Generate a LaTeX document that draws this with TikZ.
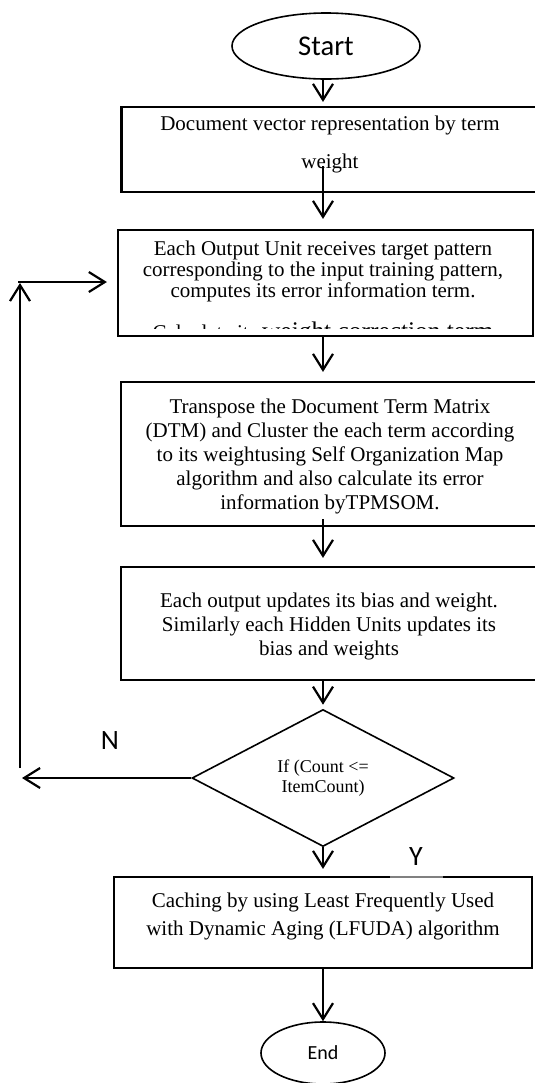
\documentclass[tikz,border=0pt]{standalone}
\usepackage{fontspec}
\setmainfont{Liberation Serif}
\newfontfamily\calibrifont{Carlito}
\usetikzlibrary{positioning, arrows.meta, shapes.geometric}

\begin{document}
\begin{tikzpicture}[x=0.5pt, y=-0.5pt]

	% Define styles
	\tikzset{
		terminal/.style={ellipse, draw, line width=0.8pt, inner sep=0pt},
		process/.style={rectangle, draw, line width=1.1pt, minimum width=209pt, inner sep=0pt},
		boxtext/.style={align=center, inner sep=0pt, anchor=base},
		decision/.style={diamond, draw, line width=0.8pt, inner sep=0pt,
			minimum width=131pt, minimum height=68.5pt, align=center,
			font=\fontsize{9}{10}\selectfont},
		answer/.style={font=\calibrifont\fontsize{14}{14}\selectfont, inner sep=0pt},
		arrow/.style={line width=1.1pt, -{Straight Barb[length=8pt, width=10pt]}}
	}

	\useasboundingbox (0,0) rectangle (535,1083);

	% Start and first box
	\node (start) [terminal, minimum width=94pt, minimum height=33pt,
		font=\calibrifont\fontsize{14.3}{16}\selectfont] at (326,46) {Start};
	\node (box1) [process, minimum height=42.5pt] at (330.5,149.5) {};
	\node (box1text) [boxtext, font=\fontsize{10.5}{19}\selectfont] at (330,168)
		{Document vector representation by term\\weight};

	% Output unit box (last line cut off)
	\node (box2) [process, minimum width=207.5pt, minimum height=53pt] at (325.5,283) {};
	\node (box2text) [boxtext, font=\fontsize{10.5}{10.5}\selectfont] at (323,297)
		{Each Output Unit receives target pattern\\corresponding to the input training pattern,\\computes its error information term.};
	\begin{scope}
		\clip (118,230) rectangle (533,328);
		\node (box2cut) [boxtext, font=\fontsize{10.5}{12}\selectfont] at (323,339)
			{Calculate its {\fontsize{12.7}{14}\selectfont weight correction term}};
	\end{scope}

	% SOM box
	\node (box3) [process, minimum height=72pt] at (330,454) {};
	\node (box3text) [boxtext, font=\fontsize{10.5}{12}\selectfont] at (330,509)
		{Transpose the Document Term Matrix\\(DTM) and Cluster the each term according\\to its weightusing Self Organization Map\\algorithm and also calculate its error\\information byTPMSOM.};

	% Update box
	\node (box4) [process, minimum height=56.5pt] at (330,623.5) {};
	\node (box4text) [boxtext, font=\fontsize{10.5}{12}\selectfont] at (329,655)
		{Each output updates its bias and weight.\\Similarly each Hidden Units updates its\\bias and weights};

	% Decision
	\node (cond) [decision] at (323,778) {If (Count <=\\ItemCount)};

	% Caching box and end
	\node (box5) [process, minimum height=45.5pt] at (323,922.5) {};
	\node (box5text) [boxtext, font=\fontsize{10.5}{14}\selectfont] at (323,935)
		{Caching by using Least Frequently Used\\with Dynamic Aging (LFUDA) algorithm};
	\node (end) [terminal, minimum width=62pt, minimum height=31pt,
		font=\calibrifont\fontsize{10}{12}\selectfont] at (323,1053) {End};

	% Branch labels
	\node (no) [answer] at (110,741) {N};
	\node (yes) [answer, fill=white, fill opacity=0.5, text opacity=1,
		minimum width=26.5pt, minimum height=24pt] at (416,857) {Y};

	% Loop back points
	\coordinate (nstop) at (22,778);
	\coordinate (loopfoot) at (20,768);
	\coordinate (loophead) at (20,283);
	\coordinate (loopstart) at (18,282);

	% Arrows (main flow)
	\draw[arrow, shorten >=2pt] (start.south -| 323,0) -- (box1.north -| 323,0);
	\draw[arrow, shorten >=5pt] ([yshift=13.5pt]box1.south -| 323,0) -- (box2.north -| 323,0);
	\draw[arrow, shorten >=4.5pt] (box2.south -| 323,0) -- (box3.north -| 323,0);
	\draw[arrow, shorten >=4pt] ([yshift=4pt]box3.south -| 323,0) -- (box4.north -| 323,0);
	\draw[arrow, shorten >=2pt] (box4.south -| cond.north) -- (cond.north);
	\draw[arrow, shorten >=3.5pt] (cond.south) -- (box5.north);
	\draw[arrow] (box5.south) -- (end.north);

	% Loop back to output unit
	\draw[arrow] (cond.west) -- (nstop);
	\draw[arrow] (loopfoot) -- (loophead);
	\draw[arrow, shorten >=5pt] (loopstart) -- (loopstart -| box2.west);

\end{tikzpicture}
\end{document}
